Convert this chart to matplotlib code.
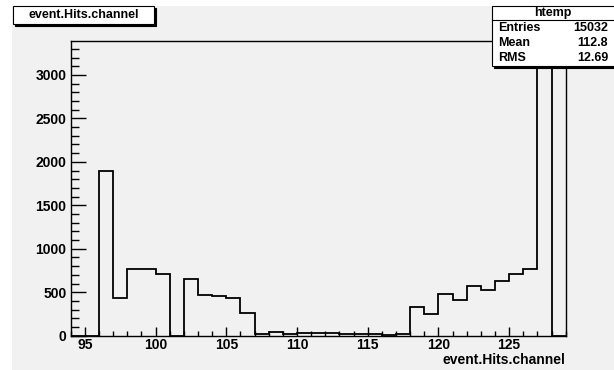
import numpy as np
import matplotlib
matplotlib.use("Agg")
from matplotlib import pyplot as plt
from matplotlib.patches import Rectangle
from matplotlib.ticker import MultipleLocator

# bin edges 94..129, width 1
edges = np.arange(94, 130)
counts = [0, 0, 1900, 437, 770, 770, 713, 0, 648, 472, 460, 437, 261,
          23, 39, 23, 30, 30, 30, 25, 25, 25, 8, 25,
          334, 250, 476, 407, 571, 529, 625, 706, 763, 3218, 0]
ymax = 3390

title = "event.Hits.channel"
xlabel = "event.Hits.channel"
stat_name = "htemp"
stat_labels = ["Entries", "Mean", "RMS"]
stat_values = ["15032", "112.8", "12.69"]

plt.rcParams['font.family'] = ['Liberation Sans', 'DejaVu Sans']
plt.rcParams['font.weight'] = 'bold'

W, H = 614, 370
fig = plt.figure(figsize=(W/100, H/100), dpi=100)
fig.patch.set_facecolor("white")
bg = "#f1f1f1"

def fx(px):
    return px/W

def fy(py):
    return 1 - py/H

# gray pad area
fig.add_artist(Rectangle((fx(12), 0), 1, fy(6), transform=fig.transFigure,
                         facecolor=bg, edgecolor="none", zorder=0))

ax = fig.add_axes([fx(70.7), fy(335.7), fx(565.7-70.7), (335.7-41)/H])
ax.set_facecolor(bg)
ax.stairs(counts, edges, color="black", lw=1.3, baseline=0)
ax.set_xlim(94, 129)
ax.set_ylim(0, ymax)

for s in ax.spines.values():
    s.set_linewidth(1.0)
    s.set_color("black")

ax.xaxis.set_major_locator(MultipleLocator(5))
ax.xaxis.set_minor_locator(MultipleLocator(1))
ax.yaxis.set_major_locator(MultipleLocator(500))
ax.yaxis.set_minor_locator(MultipleLocator(100))
ax.tick_params(axis="both", which="both", direction="in", top=False, right=False,
               width=1.0, labelsize=10)
ax.tick_params(axis="y", which="major", length=10.8, pad=3)
ax.tick_params(axis="y", which="minor", length=5.8)
ax.tick_params(axis="x", which="major", length=6.5, pad=2)
ax.tick_params(axis="x", which="minor", length=3.6)
for lab in ax.get_xticklabels() + ax.get_yticklabels():
    lab.set_fontweight("bold")

fig.text(fx(565.7), fy(360), xlabel, ha="right", va="center", fontsize=10,
         fontweight="bold")

def shadow_box(x0, y0, x1, y1):
    # shadow then box, in pixel coords (y down)
    fig.add_artist(Rectangle((fx(x0+2), fy(y1+2)), fx(x1-x0), (y1-y0)/H,
                             transform=fig.transFigure, facecolor="black",
                             edgecolor="black", lw=0.8, zorder=5))
    fig.add_artist(Rectangle((fx(x0), fy(y1)), fx(x1-x0), (y1-y0)/H,
                             transform=fig.transFigure, facecolor="white",
                             edgecolor="black", lw=0.8, zorder=6))

# title box
shadow_box(13, 6, 154, 24)
fig.text(fx(83.5), fy(15), title, ha="center", va="center", fontsize=9,
         fontweight="bold", zorder=7)

# stats box
shadow_box(492, 6, 618, 66)
fig.add_artist(plt.Line2D([fx(492), 1], [fy(20), fy(20)], transform=fig.transFigure,
                          color="black", lw=0.8, zorder=7))
fig.text(fx(553), fy(13), stat_name, ha="center", va="center", fontsize=9,
         fontweight="bold", zorder=7)
for i, (lab, val) in enumerate(zip(stat_labels, stat_values)):
    yy = 28 + 15*i
    fig.text(fx(498), fy(yy), lab, ha="left", va="center", fontsize=9,
             fontweight="bold", zorder=7)
    fig.text(fx(608), fy(yy), val, ha="right", va="center", fontsize=9,
             fontweight="bold", zorder=7)

fig.savefig("out.png", dpi=100)
